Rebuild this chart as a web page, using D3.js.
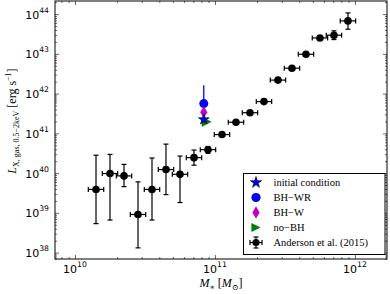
<!DOCTYPE html>
<html>
<head>
<meta charset="utf-8">
<script src="https://cdn.jsdelivr.net/npm/d3@7"></script>
<style>
body { margin: 0; background: #fff; }
svg { display: block; }
</style>
</head>
<body>
<svg id="chart"></svg>
<script>
// Anderson et al. (2015), log10 values
const andMass = [10.15, 10.25, 10.35, 10.45, 10.55, 10.65, 10.75, 10.85, 10.95, 11.05,
	11.15, 11.25, 11.35, 11.45, 11.55, 11.65, 11.75, 11.85, 11.95];
const andLx = [39.59, 39.99, 39.93, 38.96, 39.59, 40.09, 39.97, 40.39, 40.59, 40.97,
	41.28, 41.52, 41.80, 42.34, 42.64, 42.99, 43.40, 43.47, 43.83];
const andErrHi = [0.86, 0.48, 0.29, 0.82, 0.79, 0.64, 0.46, 0.19, 0.08, 0.05,
	0.04, 0.04, 0.04, 0.03, 0.03, 0.03, 0.04, 0.11, 0.20];
const andErrLo = [0.86, 1.17, 0.27, 0.84, 0.77, 0.63, 0.71, 0.19, 0.09, 0.05,
	0.04, 0.04, 0.04, 0.03, 0.03, 0.03, 0.04, 0.11, 0.21];
const andMassErr = 0.055;

// simulations (log10 M*, log10 Lx)
const initMass = 10.92, initLx = 41.35;
const bhwrMass = 10.92, bhwrLx = 41.75, bhwrErrHi = 0.46, bhwrErrLo = 0.40;
const bhwMass = 10.92, bhwLx = 41.53;
const nobhMass = 10.94, nobhLx = 41.29;

const legendLabels = ["initial condition", "BH\u2212WR", "BH\u2212W", "no\u2212BH", "Anderson et al. (2015)"];
const xMajor = [10, 11, 12];
const yMajor = [38, 39, 40, 41, 42, 43, 44];

const width = 390, height = 294;
const mLeft = 55, mRight = 387, mTop = 1, mBottom = 259;

const svg = d3.select("#chart").attr("width", width).attr("height", height);

const x = d3.scaleLog().domain([Math.pow(10, 9.857), Math.pow(10, 12.229)]).range([mLeft, mRight]);
const y = d3.scaleLog().domain([Math.pow(10, 37.84), Math.pow(10, 44.33)]).range([mBottom, mTop]);
const p = v => Math.pow(10, v);

// minor tick values
function minors(lo, hi) {
	var out = [];
	for (var e = lo; e <= hi; e++)
		for (var k = 2; k <= 9; k++) out.push(k * Math.pow(10, e));
	return out;
}
const xMinor = minors(9, 12).filter(v => v >= x.domain()[0] && v <= x.domain()[1]);
const yMinor = minors(37, 44).filter(v => v >= y.domain()[0] && v <= y.domain()[1]);

function tickLayer(axisFn, scale, vals, size, tr) {
	svg.append("g")
		.attr("transform", tr)
		.call(axisFn(scale).tickValues(vals).tickSize(size).tickFormat(""))
		.call(g => g.select(".domain").remove())
		.call(g => g.selectAll("line").attr("stroke", "#000").attr("stroke-width", 0.6));
}
// inward ticks on all four sides
tickLayer(d3.axisBottom, x, xMajor.map(p), -4, `translate(0,${mBottom})`);
tickLayer(d3.axisBottom, x, xMinor, -2, `translate(0,${mBottom})`);
tickLayer(d3.axisTop, x, xMajor.map(p), -4, `translate(0,${mTop})`);
tickLayer(d3.axisTop, x, xMinor, -2, `translate(0,${mTop})`);
tickLayer(d3.axisLeft, y, yMajor.map(p), -4, `translate(${mLeft},0)`);
tickLayer(d3.axisLeft, y, yMinor, -2, `translate(${mLeft},0)`);
tickLayer(d3.axisRight, y, yMajor.map(p), -4, `translate(${mRight},0)`);
tickLayer(d3.axisRight, y, yMinor, -2, `translate(${mRight},0)`);

svg.append("rect")
	.attr("x", mLeft).attr("y", mTop)
	.attr("width", mRight - mLeft).attr("height", mBottom - mTop)
	.attr("fill", "none").attr("stroke", "#000").attr("stroke-width", 1);

// tick labels
const tickFont = "'DejaVu Sans', sans-serif";
xMajor.forEach(function (e) {
	var t = svg.append("text")
		.attr("x", x(p(e))).attr("y", 273)
		.attr("text-anchor", "middle")
		.attr("font-family", tickFont).attr("font-size", 11);
	t.append("tspan").text("10");
	t.append("tspan").attr("dy", -6).attr("font-size", 7.7).text(e);
});
yMajor.forEach(function (e) {
	var t = svg.append("text")
		.attr("x", 49).attr("y", y(p(e)) + 4.5)
		.attr("text-anchor", "end")
		.attr("font-family", tickFont).attr("font-size", 11);
	t.append("tspan").text("10");
	t.append("tspan").attr("dy", -6).attr("font-size", 7.7).text(e);
});

// axis titles
const mathFont = "'Liberation Serif', 'DejaVu Serif', serif";
var xl = svg.append("text")
	.attr("x", (mLeft + mRight) / 2).attr("y", 287)
	.attr("text-anchor", "middle")
	.attr("font-family", mathFont).attr("font-size", 12);
xl.append("tspan").attr("font-style", "italic").text("M");
xl.append("tspan").attr("font-size", 8).attr("dy", 2.5).text("\u2217");
xl.append("tspan").attr("dy", -2.5).text(" [");
xl.append("tspan").attr("font-style", "italic").text("M");
xl.append("tspan").attr("font-size", 8).attr("dy", 2.5).text("\u2299");
xl.append("tspan").attr("dy", -2.5).text("]");

var yl = svg.append("text")
	.attr("transform", "translate(16,121) rotate(-90)")
	.attr("text-anchor", "middle")
	.attr("font-family", mathFont).attr("font-size", 12);
yl.append("tspan").attr("font-style", "italic").text("L");
yl.append("tspan").attr("font-size", 8).attr("dy", 3).text("X, gas, 0.5\u22122keV");
yl.append("tspan").attr("dy", -3).text(" [erg s");
yl.append("tspan").attr("font-size", 8).attr("dy", -5).text("\u22121");
yl.append("tspan").attr("dy", 5).text("]");

// Anderson error bars
const andData = andMass.map((m, i) => ({ m: m, l: andLx[i], hi: andErrHi[i], lo: andErrLo[i] }));
const eb = svg.append("g").attr("stroke", "#000").attr("stroke-width", 1.2);
andData.forEach(function (d) {
	var cx = x(p(d.m)), cy = y(p(d.l));
	var x0 = x(p(d.m - andMassErr)), x1 = x(p(d.m + andMassErr));
	var y0 = y(p(d.l + d.hi)), y1 = y(p(d.l - d.lo));
	eb.append("line").attr("x1", x0).attr("x2", x1).attr("y1", cy).attr("y2", cy);
	eb.append("line").attr("x1", cx).attr("x2", cx).attr("y1", y0).attr("y2", y1);
	[x0, x1].forEach(xx => eb.append("line").attr("x1", xx).attr("x2", xx).attr("y1", cy - 2.5).attr("y2", cy + 2.5));
	[y0, y1].forEach(yy => eb.append("line").attr("x1", cx - 2.5).attr("x2", cx + 2.5).attr("y1", yy).attr("y2", yy));
});
svg.append("g").selectAll("circle")
	.data(andData)
	.enter()
	.append("circle")
	.attr("cx", d => x(p(d.m)))
	.attr("cy", d => y(p(d.l)))
	.attr("r", 3.8)
	.attr("fill", "#000");

// marker shapes
const thinDiamond = (w, h) => `M0,${-h}L${w},0L0,${h}L${-w},0Z`;
const triRight = s => `M${s},0L${-s},${s}L${-s},${-s}Z`;
const starPath = d3.symbol().type(d3.symbolStar).size(36)();

// simulations
svg.append("path")
	.attr("d", triRight(4.6))
	.attr("transform", `translate(${x(p(nobhMass))},${y(p(nobhLx))})`)
	.attr("fill", "#008000").attr("stroke", "#008000").attr("stroke-width", 0.5);
svg.append("line")
	.attr("x1", x(p(bhwrMass))).attr("x2", x(p(bhwrMass)))
	.attr("y1", y(p(bhwrLx + bhwrErrHi))).attr("y2", y(p(bhwrLx - bhwrErrLo)))
	.attr("stroke", "#0000ff").attr("stroke-width", 1.3);
svg.append("circle")
	.attr("cx", x(p(bhwrMass))).attr("cy", y(p(bhwrLx)))
	.attr("r", 4.5).attr("fill", "#0000ff");
svg.append("path")
	.attr("d", thinDiamond(3.6, 6))
	.attr("transform", `translate(${x(p(bhwMass))},${y(p(bhwLx))})`)
	.attr("fill", "#bf00bf");
svg.append("path")
	.attr("d", starPath)
	.attr("transform", `translate(${x(p(initMass))},${y(p(initLx))})`)
	.attr("fill", "#0000ff").attr("stroke", "#000").attr("stroke-width", 0.6);

// legend
const lg = svg.append("g");
lg.append("rect")
	.attr("x", 243.5).attr("y", 173.5).attr("width", 141.5).attr("height", 81)
	.attr("fill", "#fff").attr("stroke", "#000").attr("stroke-width", 1);
const rowY = i => 182.5 + i * 15;
const mx = 256;
lg.append("path").attr("d", d3.symbol().type(d3.symbolStar).size(40)())
	.attr("transform", `translate(${mx},${rowY(0)})`).attr("fill", "#0000ff").attr("stroke", "#000").attr("stroke-width", 0.6);
lg.append("circle").attr("cx", mx).attr("cy", rowY(1)).attr("r", 4.6).attr("fill", "#0000ff");
lg.append("path").attr("d", thinDiamond(3.6, 6.3))
	.attr("transform", `translate(${mx},${rowY(2)})`).attr("fill", "#bf00bf");
lg.append("path").attr("d", triRight(4.6))
	.attr("transform", `translate(${mx},${rowY(3)})`).attr("fill", "#008000");
const lh = lg.append("g").attr("stroke", "#000").attr("stroke-width", 1.2);
lh.append("line").attr("x1", mx - 6).attr("x2", mx + 6).attr("y1", rowY(4)).attr("y2", rowY(4));
lh.append("line").attr("x1", mx).attr("x2", mx).attr("y1", rowY(4) - 5.5).attr("y2", rowY(4) + 5.5);
lh.append("line").attr("x1", mx - 6).attr("x2", mx - 6).attr("y1", rowY(4) - 2.5).attr("y2", rowY(4) + 2.5);
lh.append("line").attr("x1", mx + 6).attr("x2", mx + 6).attr("y1", rowY(4) - 2.5).attr("y2", rowY(4) + 2.5);
lh.append("line").attr("x1", mx - 2.5).attr("x2", mx + 2.5).attr("y1", rowY(4) - 5.5).attr("y2", rowY(4) - 5.5);
lh.append("line").attr("x1", mx - 2.5).attr("x2", mx + 2.5).attr("y1", rowY(4) + 5.5).attr("y2", rowY(4) + 5.5);
lg.append("circle").attr("cx", mx).attr("cy", rowY(4)).attr("r", 3.6).attr("fill", "#000");

lg.selectAll("text.lab")
	.data(legendLabels)
	.enter()
	.append("text")
	.attr("class", "lab")
	.attr("x", 273.5)
	.attr("y", (d, i) => rowY(i) + 3.5)
	.attr("font-family", mathFont)
	.attr("font-size", 10.5)
	.text(d => d);
</script>
</body>
</html>
